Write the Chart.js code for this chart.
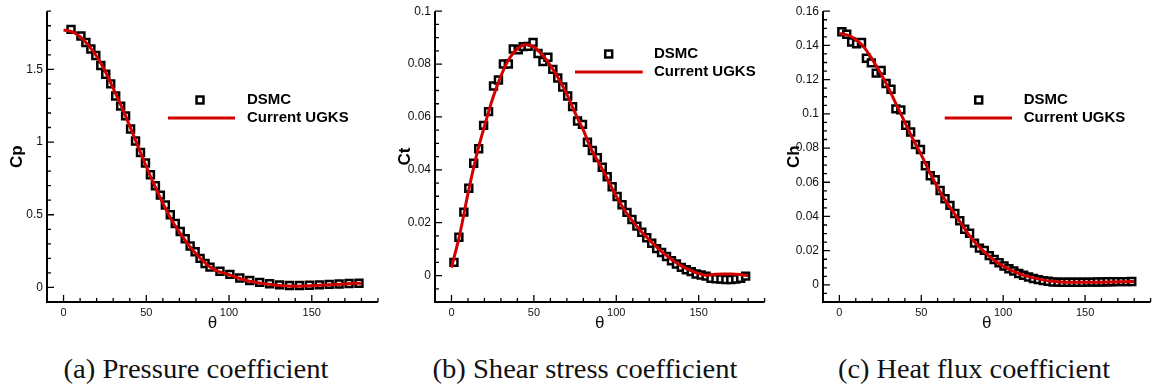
<!DOCTYPE html>
<html>
<head>
<meta charset="utf-8">
<script src="https://cdn.jsdelivr.net/npm/chart.js@4.4.1/dist/chart.umd.min.js"></script>
<style>
body{margin:0;background:#fff;width:1158px;height:387px;overflow:hidden;position:relative;}
canvas{position:absolute;top:0;}
.cap{position:absolute;top:369px;font-family:"Liberation Serif",serif;font-size:27px;color:#111;white-space:nowrap;transform:translate(-50%,-50%);}
</style>
</head>
<body>
<canvas id="cp" width="386" height="340" style="left:0px"></canvas>
<canvas id="ct" width="386" height="340" style="left:386px"></canvas>
<canvas id="ch" width="386" height="340" style="left:772px"></canvas>
<div class="cap" style="left:196px" data-w="265">(a) Pressure coefficient</div>
<div class="cap" style="left:585px" data-w="305">(b) Shear stress coefficient</div>
<div class="cap" style="left:974px" data-w="272">(c) Heat flux coefficient</div>
<script>
// values

var thetaTicks = [0, 50, 100, 150];

// (a) pressure coefficient
var cpTheta = [4.5, 10.5, 13.5, 16.5, 19.5, 22.5, 25.5, 28.5, 31.5, 34.5, 37.5, 40.5, 43.5, 46.5, 49.5,
  52.5, 55.5, 58.5, 61.5, 64.5, 67.5, 70.5, 73.5, 76.5, 79.5, 82.5, 85.5, 88.5,
  94.5, 100.5, 106.5, 112.5, 118.5, 124.5, 130.5, 136.5, 142.5, 148.5, 154.5, 160.5, 166.5, 172.5, 178.5];
var cpDsmc = [1.775, 1.73, 1.685, 1.64, 1.595, 1.527, 1.466, 1.40, 1.317, 1.247, 1.18, 1.09, 1.007, 0.928, 0.856,
  0.775, 0.70, 0.635, 0.567, 0.50, 0.44, 0.385, 0.335, 0.285, 0.245, 0.20, 0.165, 0.14,
  0.112, 0.09, 0.065, 0.048, 0.035, 0.025, 0.018, 0.014, 0.013, 0.015, 0.018, 0.021, 0.024, 0.027, 0.029];
var lineTheta = [0, 5, 10, 15, 20, 25, 30, 35, 40, 45, 50, 55, 60, 65, 70, 75, 80, 85, 90,
  95, 100, 105, 110, 115, 120, 125, 130, 135, 140, 145, 150, 155, 160, 165, 170, 175, 180];
var cpUgks = [1.77, 1.76, 1.725, 1.665, 1.59, 1.49, 1.37, 1.245, 1.11, 0.97, 0.83, 0.70, 0.58, 0.47, 0.38, 0.30, 0.232, 0.175, 0.13,
  0.105, 0.088, 0.068, 0.05, 0.038, 0.028, 0.02, 0.014, 0.011, 0.009, 0.01, 0.012, 0.015, 0.018, 0.021, 0.024, 0.027, 0.029];
var cpTicks = [0, 0.5, 1, 1.5];

// (b) shear stress coefficient
var dsmcTheta = [1.5, 4.5, 7.5, 10.5, 13.5, 16.5, 19.5, 22.5, 25.5, 28.5, 31.5, 34.5, 37.5, 40.5, 43.5, 46.5, 49.5, 52.5, 55.5, 58.5,
  61.5, 64.5, 67.5, 70.5, 73.5, 76.5, 79.5, 82.5, 85.5, 88.5, 91.5, 94.5, 97.5, 100.5, 103.5, 106.5, 109.5, 112.5, 115.5, 118.5,
  121.5, 124.5, 127.5, 130.5, 133.5, 136.5, 139.5, 142.5, 145.5, 148.5, 151.5, 154.5, 157.5, 160.5, 163.5, 166.5, 169.5, 172.5, 175.5, 178.5];
var ctDsmc = [0.005, 0.0145, 0.024, 0.033, 0.0425, 0.048, 0.0568, 0.062, 0.0717, 0.074, 0.080, 0.080, 0.0857, 0.0854, 0.0866, 0.0867, 0.0882, 0.084, 0.081, 0.0826,
  0.078, 0.0747, 0.0713, 0.0679, 0.0639, 0.0585, 0.0572, 0.0504, 0.0473, 0.0446, 0.041, 0.0374, 0.0336, 0.0299, 0.0268, 0.0239, 0.0212, 0.0187, 0.0164, 0.0143,
  0.0122, 0.0102, 0.0087, 0.0072, 0.0056, 0.0044, 0.0031, 0.0022, 0.0015, 0.0006, 0.0002, -0.0002, -0.001, -0.0012, -0.0013, -0.0015, -0.0015, -0.0013, -0.001, -0.0002];
var ctUgks = [0.003, 0.0155, 0.031, 0.045, 0.0565, 0.067, 0.0755, 0.082, 0.0858, 0.0873, 0.0865, 0.0835, 0.0795, 0.0745, 0.0685, 0.0615, 0.055, 0.0475, 0.042,
  0.036, 0.030, 0.0248, 0.0205, 0.0168, 0.0135, 0.0105, 0.0078, 0.0054, 0.0035, 0.002, 0.0008, 0.0001, 0.0005, 0.0006, 0.0006, 0.0004, 0.0];
var ctTicks = [0, 0.02, 0.04, 0.06, 0.08, 0.1];

// (c) heat flux coefficient
var chDsmc = [0.148, 0.1465, 0.142, 0.141, 0.1417, 0.1325, 0.1298, 0.1238, 0.1254, 0.1177, 0.1144, 0.1029, 0.1023, 0.0933, 0.0894, 0.0821, 0.0792, 0.0696, 0.0638, 0.0615,
  0.0552, 0.0504, 0.0465, 0.0417, 0.0375, 0.0325, 0.0302, 0.0244, 0.0215, 0.0202, 0.0171, 0.0148, 0.0129, 0.011, 0.0094, 0.0081, 0.0067, 0.0056, 0.0046, 0.0037,
  0.0031, 0.0025, 0.0021, 0.0017, 0.0016, 0.0015, 0.0015, 0.0015, 0.0015, 0.0015, 0.0016, 0.0016, 0.0017, 0.0017, 0.0018, 0.0018, 0.0019, 0.0019, 0.0019, 0.002];
var chUgks = [0.147, 0.146, 0.1435, 0.139, 0.132, 0.124, 0.115, 0.105, 0.095, 0.085, 0.076, 0.066, 0.057, 0.049, 0.042, 0.035, 0.028, 0.0225, 0.018,
  0.014, 0.011, 0.0085, 0.0065, 0.005, 0.0038, 0.0028, 0.0021, 0.0017, 0.0015, 0.0015, 0.0015, 0.0015, 0.0016, 0.0017, 0.0018, 0.0019, 0.002];
var chTicks = [0, 0.02, 0.04, 0.06, 0.08, 0.1, 0.12, 0.14, 0.16];

var RED = '#d20000';
var MARK = 4.9; // half size of the square markers

function pts(xs, ys) {
  var out = [];
  for (var i = 0; i < xs.length; i++) out.push({x: xs[i], y: ys[i]});
  return out;
}

// draws the axis lines, inward ticks and the legend
var framePlugin = {
  id: 'frame',
  afterDraw: function(chart) {
    var o = chart.options.plugins.frame;
    var ctx = chart.ctx, a = chart.chartArea, sx = chart.scales.x, sy = chart.scales.y;
    ctx.save();
    ctx.strokeStyle = '#000';
    ctx.lineWidth = 1.3;
    ctx.beginPath();
    var n = Math.round((sx.max - sx.min) / o.xMinor);
    for (var k = 0; k <= n; k++) {
      var v = sx.min + k * o.xMinor;
      var px = sx.getPixelForValue(v);
      var len = thetaTicks.indexOf(Math.round(v)) >= 0 ? 7 : 4;
      ctx.moveTo(px, a.bottom); ctx.lineTo(px, a.bottom - len);
    }
    n = Math.round((sy.max - sy.min) / o.yMinor);
    for (k = 0; k <= n; k++) {
      v = sy.min + k * o.yMinor;
      var py = sy.getPixelForValue(v);
      var major = o.yTicks.some(function(t) { return Math.abs(t - v) < o.yMinor / 10; });
      ctx.moveTo(a.left, py); ctx.lineTo(a.left + (major ? 7 : 4), py);
    }
    ctx.stroke();
    ctx.lineWidth = 2;
    ctx.beginPath();
    ctx.moveTo(a.left, a.top); ctx.lineTo(a.left, a.bottom); ctx.lineTo(a.right, a.bottom);
    ctx.stroke();

    // legend
    var L = o.legend;
    var h = MARK * Math.SQRT1_2;
    ctx.lineWidth = 2.5;
    ctx.fillStyle = '#fff';
    ctx.fillRect(L.mx - h, L.my - h, 2 * h, 2 * h);
    ctx.strokeRect(L.mx - h, L.my - h, 2 * h, 2 * h);
    ctx.strokeStyle = RED;
    ctx.lineWidth = 3;
    ctx.beginPath();
    ctx.moveTo(L.l0, L.ly); ctx.lineTo(L.l1, L.ly);
    ctx.stroke();
    ctx.fillStyle = '#000';
    ctx.font = 'bold 15px "Liberation Sans", Arial, sans-serif';
    ctx.textBaseline = 'middle';
    ctx.textAlign = 'left';
    ctx.fillText(chart.data.datasets[1].label, L.tx, L.my);
    ctx.fillText(chart.data.datasets[0].label, L.tx, L.ly);
    ctx.restore();
  }
};

function makePanel(id, dTheta, dVals, uVals, yMin, yMax, yTicks, yMinor, yTitle, box, legend) {
  new Chart(document.getElementById(id), {
    type: 'scatter',
    data: {
      datasets: [
        {
          label: 'Current UGKS',
          data: pts(lineTheta, uVals),
          showLine: true,
          borderColor: RED,
          borderWidth: 3,
          pointRadius: 0,
          cubicInterpolationMode: 'monotone',
          order: 0
        },
        {
          label: 'DSMC',
          data: pts(dTheta, dVals),
          pointStyle: 'rect',
          pointRadius: MARK,
          pointBorderWidth: 2.5,
          pointBorderColor: '#000',
          pointBackgroundColor: '#fff',
          order: 1
        }
      ]
    },
    options: {
      responsive: false,
      animation: false,
      devicePixelRatio: 1,
      layout: {padding: {top: 8, right: box.right, left: 0, bottom: 0}},
      plugins: {
        legend: {display: false},
        tooltip: {enabled: false},
        frame: {xMinor: 10, yMinor: yMinor, yTicks: yTicks, legend: legend}
      },
      scales: {
        x: {
          type: 'linear',
          min: -10, max: 190,
          afterBuildTicks: function(s) { s.ticks = thetaTicks.map(function(v) { return {value: v}; }); },
          afterFit: function(s) { s.height = 38; },
          grid: {display: false, drawTicks: false},
          border: {display: false},
          ticks: {padding: 4, color: '#111', font: {family: '"Liberation Sans", Arial, sans-serif', size: 11}, maxRotation: 0},
          title: {display: true, text: 'θ', color: '#111', padding: {top: 0, bottom: 6},
            font: {family: '"Liberation Sans", Arial, sans-serif', size: 17}}
        },
        y: {
          type: 'linear',
          min: yMin, max: yMax,
          afterBuildTicks: function(s) { s.ticks = yTicks.map(function(v) { return {value: v}; }); },
          afterFit: function(s) { s.width = box.left; },
          grid: {display: false, drawTicks: false},
          border: {display: false},
          ticks: {padding: 4, color: '#111', font: {family: '"Liberation Sans", Arial, sans-serif', size: 12},
            callback: function(v) { return String(v); }},
          title: {display: true, text: yTitle, color: '#000', padding: {top: box.title, bottom: 0},
            font: {family: '"Liberation Sans", Arial, sans-serif', size: 17, weight: 'bold'}}
        }
      }
    },
    plugins: [framePlugin]
  });
}

makePanel('cp', cpTheta, cpDsmc, cpUgks, -0.1, 1.9, cpTicks, 0.1, 'Cp',
  {left: 47, right: 8, title: 7},
  {mx: 200, my: 100, tx: 247, l0: 168, l1: 235, ly: 118});
makePanel('ct', dsmcTheta, ctDsmc, ctUgks, -0.01, 0.1, ctTicks, 0.005, 'Ct',
  {left: 49, right: 5, title: 9},
  {mx: 222.7, my: 54, tx: 268, l0: 189, l1: 256.7, ly: 72});
makePanel('ch', dsmcTheta, chDsmc, chUgks, -0.01, 0.16, chTicks, 0.005, 'Ch',
  {left: 51, right: 3, title: 12},
  {mx: 206.7, my: 100, tx: 251.7, l0: 172.7, l1: 240, ly: 118});

// stretch the serif captions to the width they have in the reference
document.querySelectorAll('.cap').forEach(function(el) {
  var w = el.getBoundingClientRect().width;
  el.style.transform = 'translate(-50%,-50%) scaleX(' + (Number(el.dataset.w) / w) + ')';
});
</script>
</body>
</html>
